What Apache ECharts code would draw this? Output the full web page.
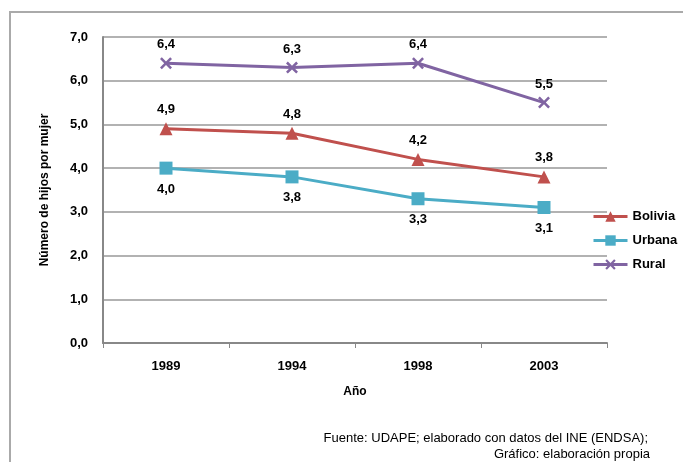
<!DOCTYPE html>
<html>
<head>
<meta charset="utf-8">
<script src="https://cdn.jsdelivr.net/npm/echarts@6/dist/echarts.min.js"></script>
<style>
  html, body { margin: 0; padding: 0; background: #fff; }
  #chart { width: 683px; height: 462px; }
</style>
</head>
<body>
<div id="chart"></div>
<script>
// datos
const years = ["1989", "1994", "1998", "2003"];
const bolivia = [4.9, 4.8, 4.2, 3.8];
const urbana = [4.0, 3.8, 3.3, 3.1];
const rural = [6.4, 6.3, 6.4, 5.5];

const FONT = "'Liberation Sans', Arial, sans-serif";
const crossPath = "path://M0,1.5 L1.5,0 L5,3.5 L8.5,0 L10,1.5 L6.5,5 L10,8.5 L8.5,10 L5,6.5 L1.5,10 L0,8.5 L3.5,5 Z";

const fmt = (p) => p.value.toFixed(1).replace(".", ",");

const chart = echarts.init(document.getElementById("chart"));

function serie(name, data, color, symbol, size, pos, dist) {
  return {
    name: name,
    type: "line",
    data: data,
    symbol: symbol,
    symbolSize: size,
    lineStyle: { color: color, width: 3 },
    itemStyle: { color: color },
    label: {
      show: true,
      position: pos,
      distance: dist,
      formatter: fmt,
      color: "#000",
      fontWeight: "bold",
      fontSize: 13,
      fontFamily: FONT
    }
  };
}

const option = {
  animation: false,
  grid: { left: 103, right: 76, top: 37, bottom: 119 },
  graphic: [
    {
      type: "polyline",
      shape: { points: [[10, 470], [10, 12], [690, 12]] },
      style: { stroke: "#aaa", lineWidth: 2, fill: null }
    },
    {
      type: "text",
      x: 648,
      y: 432,
      style: {
        text: "Fuente: UDAPE; elaborado con datos del INE (ENDSA);",
        align: "right",
        font: "13px " + FONT,
        fill: "#000"
      }
    },
    {
      type: "text",
      x: 650,
      y: 448,
      style: {
        text: "Gráfico: elaboración propia",
        align: "right",
        font: "13px " + FONT,
        fill: "#000"
      }
    }
  ],
  legend: {
    orient: "vertical",
    left: 587,
    top: 205,
    itemWidth: 34,
    itemHeight: 13,
    itemGap: 11,
    lineStyle: { width: 3 },
    textStyle: { fontWeight: "bold", fontSize: 13, fontFamily: FONT, color: "#000" },
    data: ["Bolivia", "Urbana", "Rural"]
  },
  xAxis: {
    type: "category",
    data: years,
    boundaryGap: true,
    name: "Año",
    nameLocation: "middle",
    nameGap: 43,
    nameTextStyle: { fontWeight: "bold", fontSize: 12, fontFamily: FONT, color: "#000" },
    axisLine: { lineStyle: { color: "#888", width: 2 } },
    axisTick: { show: true, length: 5, lineStyle: { color: "#888" } },
    axisLabel: { margin: 17, fontWeight: "bold", fontSize: 13, fontFamily: FONT, color: "#000" }
  },
  yAxis: {
    type: "value",
    min: 0,
    max: 7,
    interval: 1,
    name: "Número de hijos por mujer",
    nameLocation: "middle",
    nameGap: 52,
    nameTextStyle: { fontWeight: "bold", fontSize: 12, fontFamily: FONT, color: "#000" },
    axisLine: { show: true, lineStyle: { color: "#888", width: 2 } },
    axisTick: { show: false },
    splitLine: { lineStyle: { color: "#999", width: 1.5 } },
    axisLabel: {
      margin: 15,
      fontWeight: "bold",
      fontSize: 13,
      fontFamily: FONT,
      color: "#000",
      formatter: (v) => v.toFixed(1).replace(".", ",")
    }
  },
  series: [
    serie("Bolivia", bolivia, "#C0504D", "triangle", 13, "top", 6),
    serie("Urbana", urbana, "#4BACC6", "rect", 13, "bottom", 8),
    serie("Rural", rural, "#8064A2", crossPath, 12, "top", 6)
  ]
};

chart.setOption(option);
</script>
</body>
</html>
